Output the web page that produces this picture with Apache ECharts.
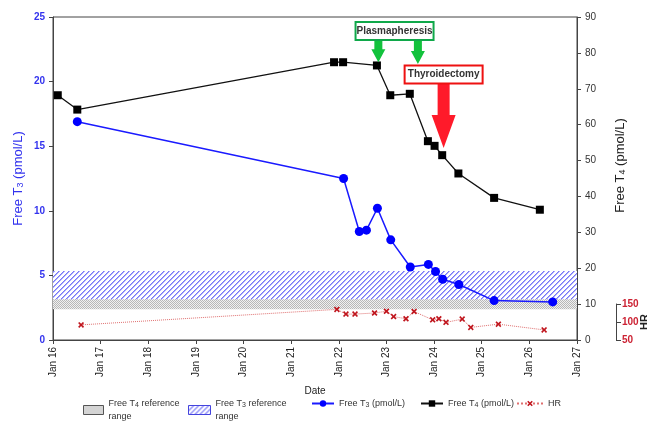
<!DOCTYPE html>
<html>
<head>
<meta charset="utf-8">
<script src="https://cdn.jsdelivr.net/npm/echarts@6/dist/echarts.min.js"></script>
<style>html,body{margin:0;padding:0;background:#fff}#c{width:647px;height:423px}</style>
</head>
<body>
<div id="c"></div>
<script>
// ---- data ----
const xTickDays = [16, 17, 18, 19, 20, 21, 22, 23, 24, 25, 26, 27];
const t3Dates  = [16.51, 22.10, 22.43, 22.58, 22.81, 23.09, 23.50, 23.88, 24.03, 24.18, 24.52, 25.26, 26.49];
const t3Values = [16.9, 12.5, 8.4, 8.5, 10.2, 7.75, 5.65, 5.85, 5.3, 4.7, 4.3, 3.05, 2.95];
const t4Dates  = [16.10, 16.51, 21.90, 22.09, 22.80, 23.08, 23.49, 23.87, 24.01, 24.17, 24.51, 25.26, 26.22];
const t4Values = [68.2, 64.2, 77.4, 77.4, 76.5, 68.2, 68.6, 55.4, 54.1, 51.5, 46.4, 39.6, 36.3];
const hrDates  = [16.59, 21.96, 22.15, 22.34, 22.75, 23.00, 23.15, 23.41, 23.58, 23.97, 24.10, 24.25, 24.59, 24.77, 25.35, 26.31];
const hrValues = [92, 135, 122, 122, 125, 130, 115, 109, 129, 106, 109, 99, 108, 85, 94, 78];
const t3RefRange = [3.15, 5.35];
const t4RefRange = [8.6, 11.4];
const plasmapheresisDates = [22.83, 23.66];
const thyroidectomyDate = 24.2;

const FONT = 'Liberation Sans, Arial, sans-serif';

function makePattern(kind) {
  const c = document.createElement('canvas');
  const s = kind === 'hatch' ? 5 : 2;
  c.width = s; c.height = s;
  const g = c.getContext('2d');
  const img = g.createImageData(s, s);
  for (let y = 0; y < s; y++) {
    for (let x = 0; x < s; x++) {
      let col;
      if (kind === 'hatch') {
        const k = (x + y) % s;
        col = k === s - 1 ? [120, 120, 248] : (k === 0 ? [172, 172, 252] : [255, 255, 255]);
      } else {
        col = ((x + y) % 2 === 0) ? [184, 184, 184] : [240, 240, 240];
      }
      const i = (y * s + x) * 4;
      img.data[i] = col[0]; img.data[i + 1] = col[1]; img.data[i + 2] = col[2]; img.data[i + 3] = 255;
    }
  }
  g.putImageData(img, 0, 0);
  return { image: c, repeat: 'repeat' };
}
const hatch = makePattern('hatch');
const dots = makePattern('dots');

const pair = (xs, ys) => xs.map((x, i) => [x, ys[i]]);
const xSym = 'path://M0,2L2,0L5,3L8,0L10,2L7,5L10,8L8,10L5,7L2,10L0,8L3,5Z';
const subRich = { sub: { fontSize: 7, padding: [4, 0, 0, 0] } };

const chart = echarts.init(document.getElementById('c'), null, { renderer: 'canvas' });

const legendBase = {
  top: 397, orient: 'horizontal', selectedMode: false, itemGap: 6, padding: 0,
  textStyle: { fontFamily: FONT, fontSize: 9, lineHeight: 13, color: '#333', rich: subRich }
};

const option = {
  animation: false,
  backgroundColor: '#fff',
  textStyle: { fontFamily: FONT },
  grid: [
    { left: 53, right: 70, top: 17, bottom: 83, show: true, borderColor: '#444', borderWidth: 1,
      backgroundColor: 'transparent', containLabel: false, outerBoundsMode: 'none' },
    { left: 53, right: 70, top: 304, bottom: 83, containLabel: false, outerBoundsMode: 'none' }
  ],
  xAxis: [
    {
      type: 'value', gridIndex: 0, min: xTickDays[0], max: xTickDays[xTickDays.length - 1], interval: 1,
      name: 'Date', nameLocation: 'middle', nameGap: 46, nameMoveOverlap: false,
      nameTextStyle: { fontSize: 10, color: '#222', fontFamily: FONT },
      axisLine: { show: true, lineStyle: { color: '#444' } },
      axisTick: { show: true, length: 4, lineStyle: { color: '#444' } },
      splitLine: { show: false },
      axisLabel: { rotate: 90, fontSize: 10, color: '#222', margin: 7, formatter: v => 'Jan ' + v }
    },
    {
      type: 'value', gridIndex: 1, min: xTickDays[0], max: xTickDays[xTickDays.length - 1], show: false
    }
  ],
  yAxis: [
    {
      type: 'value', gridIndex: 0, min: 0, max: 25, interval: 5, position: 'left',
      name: 'Free T{sub|3} (pmol/L)', nameLocation: 'middle', nameGap: 28, nameRotate: 90, nameMoveOverlap: false,
      nameTextStyle: { fontSize: 13, color: '#3333ee', fontFamily: FONT, rich: { sub: { fontSize: 9, padding: [5, 0, 0, 0], color: '#3333ee' } } },
      axisLine: { show: true, lineStyle: { color: '#444' } },
      axisTick: { show: true, length: 4, lineStyle: { color: '#444' } },
      splitLine: { show: false },
      axisLabel: { fontSize: 10, fontWeight: 'bold', color: '#3333ee', margin: 8 }
    },
    {
      type: 'value', gridIndex: 0, min: 0, max: 90, interval: 10, position: 'right',
      name: 'Free T{sub|4} (pmol/L)', nameLocation: 'middle', nameGap: 36, nameRotate: 90, nameMoveOverlap: false,
      nameTextStyle: { fontSize: 13, color: '#222', fontFamily: FONT, padding: [0, 0, 0, 26], rich: { sub: { fontSize: 9, padding: [5, 0, 0, 0], color: '#222' } } },
      axisLine: { show: true, lineStyle: { color: '#444' } },
      axisTick: { show: true, length: 4, lineStyle: { color: '#444' } },
      splitLine: { show: false },
      axisLabel: { fontSize: 10, color: '#333', margin: 8 }
    },
    {
      type: 'value', gridIndex: 1, min: 50, max: 150, interval: 50, position: 'right', offset: 39,
      name: 'HR', nameLocation: 'middle', nameGap: 23, nameRotate: 90, nameMoveOverlap: false,
      nameTextStyle: { fontSize: 11, fontWeight: 'bold', color: '#222', fontFamily: FONT },
      axisLine: { show: true, lineStyle: { color: '#444' } },
      axisTick: { show: true, length: 5, lineStyle: { color: '#444' } },
      splitLine: { show: false },
      axisLabel: { fontSize: 10, fontWeight: 'bold', color: '#cc2233', margin: 6 }
    }
  ],
  legend: [
    Object.assign({}, legendBase, { left: 83, itemWidth: 20, itemHeight: 9,
      data: [{ name: 'Free T4 reference range', icon: 'rect', itemStyle: { color: dots, borderColor: '#555', borderWidth: 1 } }],
      formatter: () => 'Free T{sub|4} reference\nrange' }),
    Object.assign({}, legendBase, { left: 188, itemWidth: 22, itemHeight: 9,
      data: [{ name: 'Free T3 reference range', icon: 'rect', itemStyle: { color: hatch, borderColor: '#4444dd', borderWidth: 1 } }],
      formatter: () => 'Free T{sub|3} reference\nrange' }),
    Object.assign({}, legendBase, { left: 311, itemWidth: 22, itemHeight: 8,
      data: ['Free T3 (pmol/L)'], formatter: () => 'Free T{sub|3} (pmol/L)' }),
    Object.assign({}, legendBase, { left: 420, itemWidth: 22, itemHeight: 8,
      data: ['Free T4 (pmol/L)'], formatter: () => 'Free T{sub|4} (pmol/L)' }),
    Object.assign({}, legendBase, { left: 516, itemWidth: 26, itemHeight: 7,
      data: ['HR'] })
  ],
  series: [
    {
      name: 'Free T4 reference range', type: 'line', xAxisIndex: 0, yAxisIndex: 1, data: [],
      itemStyle: { color: dots }, z: 1,
      markArea: { silent: true, itemStyle: { color: dots },
        data: [[{ xAxis: xTickDays[0], yAxis: t4RefRange[0] }, { xAxis: xTickDays[xTickDays.length - 1], yAxis: t4RefRange[1] }]] }
    },
    {
      name: 'Free T3 reference range', type: 'line', xAxisIndex: 0, yAxisIndex: 0, data: [],
      itemStyle: { color: hatch }, z: 1,
      markArea: { silent: true, itemStyle: { color: hatch },
        data: [[{ xAxis: xTickDays[0], yAxis: t3RefRange[0] }, { xAxis: xTickDays[xTickDays.length - 1], yAxis: t3RefRange[1] }]] }
    },
    {
      name: 'Free T3 (pmol/L)', type: 'line', xAxisIndex: 0, yAxisIndex: 0,
      data: pair(t3Dates, t3Values), symbol: 'circle', symbolSize: 9,
      itemStyle: { color: '#0000ff' }, lineStyle: { color: '#1a1aff', width: 1.5 }, z: 3
    },
    {
      name: 'Free T4 (pmol/L)', type: 'line', xAxisIndex: 0, yAxisIndex: 1,
      data: pair(t4Dates, t4Values), symbol: 'rect', symbolSize: 8,
      itemStyle: { color: '#000' }, lineStyle: { color: '#111', width: 1.3 }, z: 3
    },
    {
      name: 'HR', type: 'line', xAxisIndex: 1, yAxisIndex: 2, clip: false,
      data: pair(hrDates, hrValues), symbol: xSym, symbolSize: 6,
      itemStyle: { color: '#c0161e' }, lineStyle: { color: '#e07070', width: 1, type: 'dotted' }, z: 3
    }
  ]
};
chart.setOption(option);

// ---- annotations positioned through the axes' scales ----
function px(x, y) { return chart.convertToPixel({ xAxisIndex: 0, yAxisIndex: 1 }, [x, y]); }
const graphics = [];
function box(cx, cy, w, h, text, border) {
  graphics.push({ type: 'rect', z: 50, shape: { x: cx - w / 2, y: cy - h / 2, width: w, height: h },
    style: { fill: '#fff', stroke: border, lineWidth: 2 } });
  graphics.push({ type: 'text', z: 51, x: cx, y: cy,
    style: { text: text, fill: '#333', font: 'bold 10px ' + FONT, align: 'center', verticalAlign: 'middle' } });
}
function arrow(tx, ty, topY, headW, headH, shaftW, color) {
  graphics.push({ type: 'polygon', z: 49, shape: { points: [
    [tx - shaftW / 2, topY], [tx + shaftW / 2, topY], [tx + shaftW / 2, ty - headH],
    [tx + headW / 2, ty - headH], [tx, ty], [tx - headW / 2, ty - headH], [tx - shaftW / 2, ty - headH]] },
    style: { fill: color } });
}
const pBox = px(23.17, 86.1);
box(pBox[0], pBox[1], 78, 18, 'Plasmapheresis', '#10a84a');
const greenTipT4 = [77.4, 76.9];
plasmapheresisDates.forEach((d, i) => {
  const tip = px(d, greenTipT4[i]);
  arrow(tip[0], tip[1], pBox[1] + 9, 14, 13, 8, '#12c23c');
});
const tBox = px(thyroidectomyDate, 74.0);
box(tBox[0], tBox[1], 78, 18, 'Thyroidectomy', '#ee1111');
const rTip = px(thyroidectomyDate, 53.5);
arrow(rTip[0], rTip[1], tBox[1] + 9, 24, 33, 12, '#ff1a2a');
chart.setOption({ graphic: graphics });
</script>
</body>
</html>
